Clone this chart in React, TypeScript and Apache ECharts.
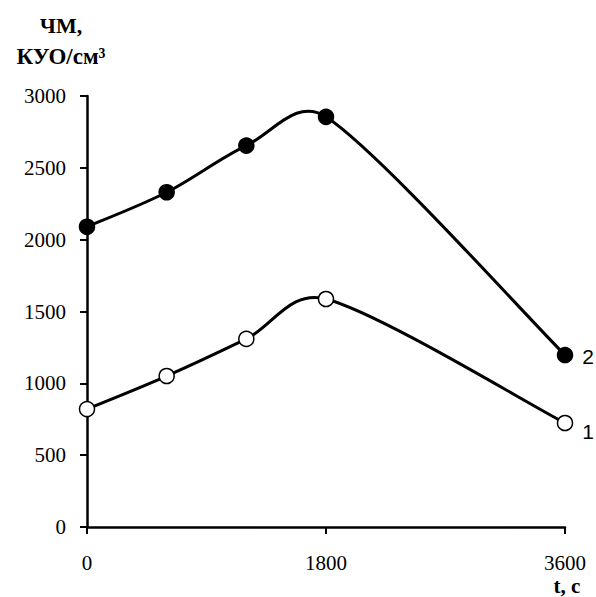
import React, { useEffect, useRef } from "react";
import * as echarts from "echarts";

const times = [0, 600, 1200, 1800, 3600];
const series2 = [2090, 2330, 2655, 2855, 1197];
const series1 = [821, 1051, 1309, 1587, 724];
const seriesNames = ["2", "1"];
const xTicks = [0, 1800, 3600];
const yLabelTitle = ["ЧМ,", "КУО/см³"];
const xTitle = "t, c";

export default function App() {
  const ref = useRef<HTMLDivElement>(null);
  useEffect(() => {
    if (!ref.current) return;
    const chart = echarts.init(ref.current, null, { renderer: "svg" });
    const serif = "'Liberation Serif', 'Times New Roman', serif";
    const sans = "'Liberation Sans', Arial, sans-serif";

    // Excel-like smoothing drawn through the axis scales
    const curve = (vals: number[]) => ({
      type: "custom",
      data: vals.map((v, i) => [times[i], v]),
      silent: true,
      z: 2,
      renderItem: (params: any, api: any) => {
        const i = params.dataIndex;
        const n = vals.length;
        if (i >= n - 1) return null;
        const P = (j: number) => {
          const k = Math.max(0, Math.min(n - 1, j));
          return api.coord([times[k], vals[k]]);
        };
        const p0 = P(i - 1), p1 = P(i), p2 = P(i + 1), p3 = P(i + 2);
        const chord = Math.hypot(p2[0] - p1[0], p2[1] - p1[1]);
        const arm = (a: number[], b: number[]) => {
          let dx = (b[0] - a[0]) / 6;
          let dy = (b[1] - a[1]) / 6;
          const len = Math.hypot(dx, dy);
          const cap = 0.42 * chord;
          if (len > cap && len > 0) {
            dx *= cap / len;
            dy *= cap / len;
          }
          return [dx, dy];
        };
        const a1 = arm(p0, p2);
        const a2 = arm(p1, p3);
        return {
          type: "bezierCurve",
          shape: {
            x1: p1[0],
            y1: p1[1],
            x2: p2[0],
            y2: p2[1],
            cpx1: p1[0] + a1[0],
            cpy1: p1[1] + a1[1],
            cpx2: p2[0] - a2[0],
            cpy2: p2[1] - a2[1],
          },
          style: { stroke: "#000", lineWidth: 3, fill: null },
        };
      },
    });

    const marks = (vals: number[], name: string, fill: string, lastOffset: number[]) => ({
      type: "scatter",
      name,
      symbol: "circle",
      symbolSize: 15,
      z: 3,
      itemStyle: { color: fill, borderColor: "#000", borderWidth: 1.5, opacity: 1 },
      data: vals.map((v, i) => {
        const p: any = { value: [times[i], v] };
        if (i === vals.length - 1) {
          p.label = {
            show: true,
            position: "right",
            distance: 9,
            offset: lastOffset,
            formatter: () => name,
            color: "#000",
            fontFamily: sans,
            fontSize: 21,
          };
        }
        return p;
      }),
    });

    chart.setOption({
      animation: false,
      backgroundColor: "#fff",
      grid: { left: 87, top: 96, width: 478, height: 431 },
      xAxis: {
        type: "value",
        min: 0,
        max: 3600,
        interval: 1800,
        axisLine: { show: true, lineStyle: { color: "#000", width: 2.5 } },
        axisTick: { show: true, inside: false, length: 7, lineStyle: { color: "#000", width: 2 } },
        splitLine: { show: false },
        axisLabel: {
          color: "#000",
          fontFamily: serif,
          fontSize: 21,
          margin: 25,
          formatter: (v: number) => (xTicks.includes(v) ? String(v) : ""),
        },
      },
      yAxis: {
        type: "value",
        min: 0,
        max: 3000,
        interval: 500,
        axisLine: { show: true, lineStyle: { color: "#000", width: 2.5 } },
        axisTick: { show: true, inside: false, length: 7, lineStyle: { color: "#000", width: 2 } },
        splitLine: { show: false },
        axisLabel: {
          color: "#000",
          fontFamily: serif,
          fontSize: 21,
          margin: 21,
          formatter: (v: number) => String(v),
        },
      },
      series: [
        curve(series2),
        curve(series1),
        marks(series2, seriesNames[0], "#000", [0, 1]),
        marks(series1, seriesNames[1], "#fff", [0, 9]),
      ],
      graphic: [
        {
          type: "text",
          x: 61,
          y: 25,
          style: {
            text: yLabelTitle[0],
            font: `bold 22px ${serif}`,
            fill: "#000",
            align: "center",
            verticalAlign: "middle",
          },
        },
        {
          type: "text",
          x: 61,
          y: 56,
          style: {
            text: yLabelTitle[1],
            font: `bold 23px ${serif}`,
            fill: "#000",
            align: "center",
            verticalAlign: "middle",
          },
        },
        {
          type: "text",
          x: 567,
          y: 586,
          style: {
            text: xTitle,
            font: `bold 21px ${serif}`,
            fill: "#000",
            align: "center",
            verticalAlign: "middle",
          },
        },
      ],
    });
    return () => chart.dispose();
  }, []);
  return (
    <div
      ref={ref}
      style={{ position: "fixed", left: 0, top: 0, width: 596, height: 597, background: "#fff" }}
    />
  );
}
